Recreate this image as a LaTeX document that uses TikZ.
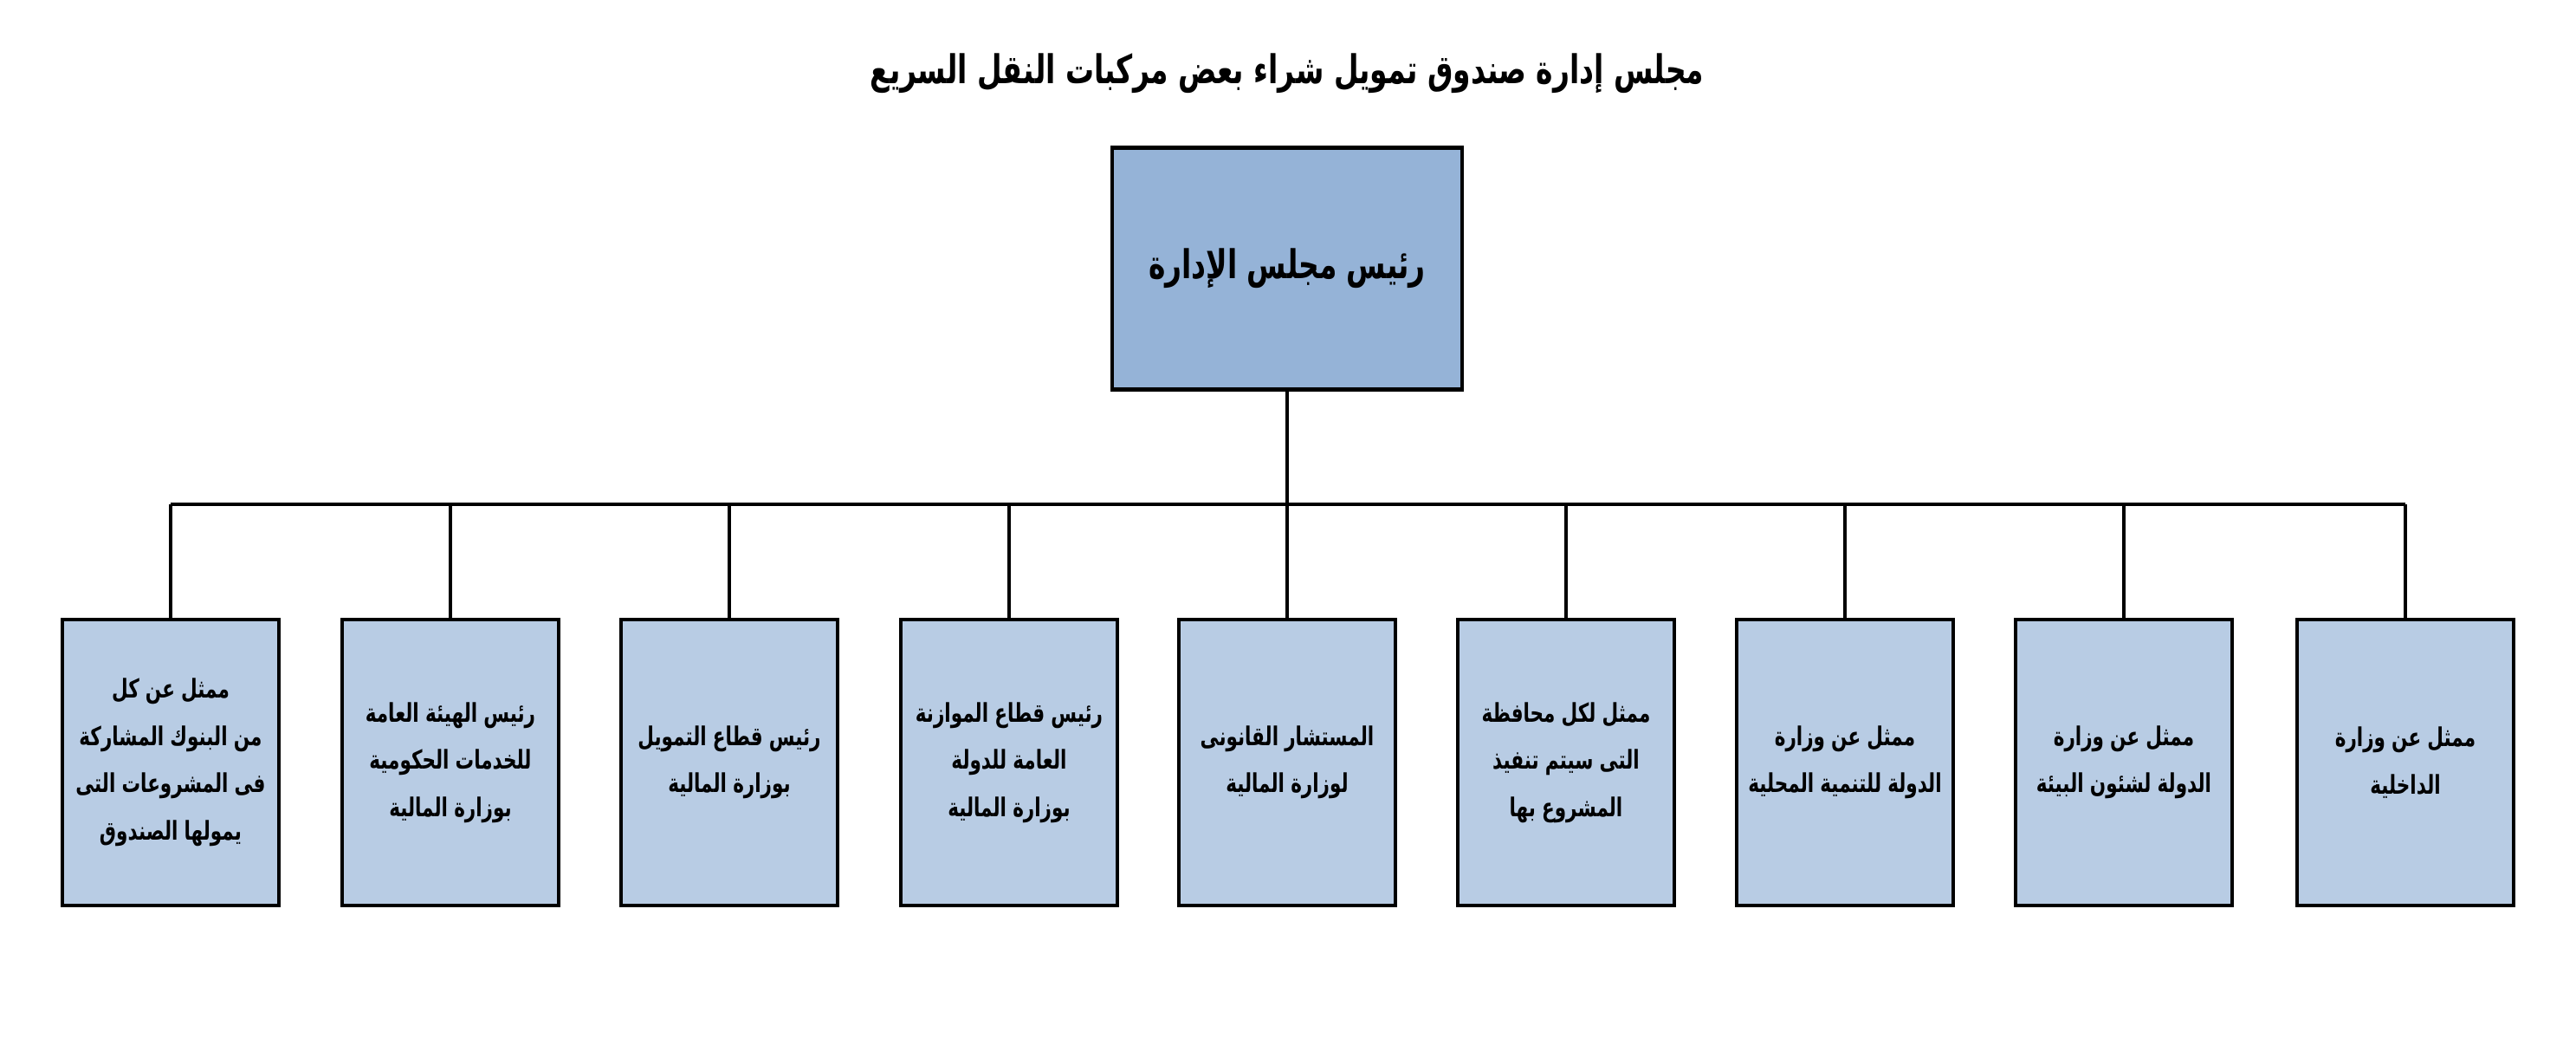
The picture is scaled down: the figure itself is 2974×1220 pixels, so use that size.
\documentclass[tikz,border=0pt]{standalone}
\usepackage{fontspec}
\usepackage{graphicx}
\newfontfamily\arabicfont[Script=Arabic]{DejaVu Sans}
\TeXXeTstate=1
\newcommand{\AR}[1]{\scalebox{0.72}[1]{\arabicfont\bfseries\beginR #1\endR}}
\definecolor{topfill}{HTML}{95B3D7}
\definecolor{boxfill}{HTML}{B8CCE4}
\begin{document}
\begin{tikzpicture}[x=0.01cm,y=-0.01cm,
  member/.style={draw=black,line width=1.2pt,fill=boxfill,minimum width=2.5cm,minimum height=3.3cm,text width=2.4cm,align=center,font=\fontsize{8.5}{15.5}\selectfont,inner sep=1pt},
  chief/.style={draw=black,line width=1.2pt,fill=topfill,minimum width=3.94cm,minimum height=2.79cm,text width=3.8cm,align=center,font=\fontsize{13}{16}\selectfont},
  link/.style={line width=1pt}]
\useasboundingbox[fill=white] (0,0) rectangle (2974,1220);
\node (title) at (1486,85) {\fontsize{13}{16}\selectfont\AR{مجلس إدارة صندوق تمويل شراء بعض مركبات النقل السريع}};
\node[chief] (top) at (1486,310) {\AR{رئيس مجلس الإدارة}};
\node[member] (b1) at (197,880) {\AR{ممثل عن كل}\\\AR{من البنوك المشاركة}\\\AR{فى المشروعات التى}\\\AR{يمولها الصندوق}};
\node[member] (b2) at (520,880) {\AR{رئيس الهيئة العامة}\\\AR{للخدمات الحكومية}\\\AR{بوزارة المالية}};
\node[member] (b3) at (842,880) {\AR{رئيس قطاع التمويل}\\\AR{بوزارة المالية}};
\node[member] (b4) at (1165,880) {\AR{رئيس قطاع الموازنة}\\\AR{العامة للدولة}\\\AR{بوزارة المالية}};
\node[member] (b5) at (1486,880) {\AR{المستشار القانونى}\\\AR{لوزارة المالية}};
\node[member] (b6) at (1808,880) {\AR{ممثل لكل محافظة}\\\AR{التى سيتم تنفيذ}\\\AR{المشروع بها}};
\node[member] (b7) at (2130,880) {\AR{ممثل عن وزارة}\\\AR{الدولة للتنمية المحلية}};
\node[member] (b8) at (2452,880) {\AR{ممثل عن وزارة}\\\AR{الدولة لشئون البيئة}};
\node[member] (b9) at (2777,880) {\AR{ممثل عن وزارة}\\\AR{الداخلية}};
\coordinate (bar) at (1486,582);
\draw[link] (top.south) -- (bar);
\foreach \b in {b1,b2,b3,b4,b5,b6,b7,b8,b9}{
  \draw[link] (bar -| \b.north) -- (\b.north);
}
\draw[link] (bar -| b1.north) -- (bar -| b9.north);
\end{tikzpicture}
\end{document}
